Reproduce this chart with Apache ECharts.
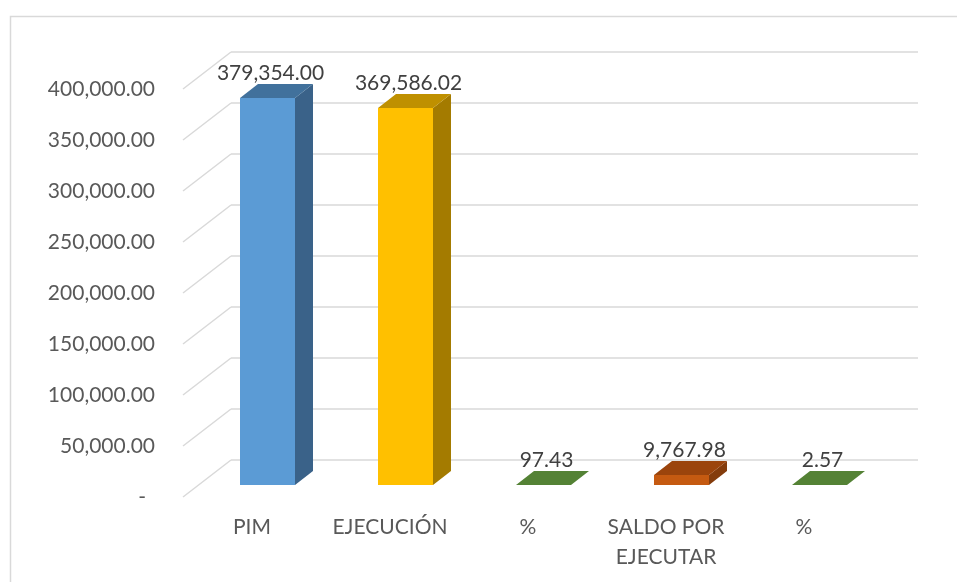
<!DOCTYPE html>
<html>
<head>
<meta charset="utf-8">
<script src="https://cdn.jsdelivr.net/npm/echarts@6/dist/echarts.min.js"></script>
<style>
  html, body { margin: 0; padding: 0; background: #fff; }
  #chart { width: 957px; height: 582px; }
</style>
</head>
<body>
<div id="chart"></div>
<script>
// datos
var categories = ['PIM', 'EJECUCIÓN', '%', 'SALDO POR\nEJECUTAR', '%'];
var values = [379354.00, 369586.02, 97.43, 9767.98, 2.57];
var yTicks = [0, 50000, 100000, 150000, 200000, 250000, 300000, 350000, 400000];
var yTickLabels = ['-', '50,000.00', '100,000.00', '150,000.00', '200,000.00', '250,000.00', '300,000.00', '350,000.00', '400,000.00'];

// colores: [frente, tapa, lado]
var palette = [
  ['#5B9BD5', '#41719C', '#3A6289'],
  ['#FFC000', '#BF9000', '#A47B00'],
  ['#548235', '#548235', '#548235'],
  ['#C55A11', '#9B440C', '#843C0C'],
  ['#548235', '#548235', '#548235']
];

var FONT = 'Lato, "Open Sans", sans-serif';
var FS = 21;
var DEPTH_X = 18, DEPTH_Y = -14;   // profundidad de la barra
var WALL_X = 48, WALL_Y = -37;     // piso frontal -> pared del fondo
var BAR_W = 55;

function fmt(v) {
  return v.toLocaleString('en-US', { minimumFractionDigits: 2, maximumFractionDigits: 2 });
}

var myChart = echarts.init(document.getElementById('chart'), null, { renderer: 'canvas' });

var option = {
  animation: false,
  textStyle: { fontFamily: FONT },
  graphic: [{
    type: 'rect',
    shape: { x: 10.5, y: 16.5, width: 960, height: 600 },
    style: { fill: 'none', stroke: '#d9d9d9', lineWidth: 1.5 },
    silent: true
  }],
  grid: [
    // plano frontal de las barras
    { left: 198.5, top: 77, width: 690, height: 408 },
    // borde frontal del piso (etiquetas)
    { left: 183, top: 89, width: 690, height: 408 },
    // pared del fondo
    { left: 231, top: 52, width: 687, height: 408 }
  ],
  xAxis: [
    { gridIndex: 0, type: 'category', data: categories, show: false },
    {
      gridIndex: 1, type: 'category', data: categories,
      axisLine: { show: false }, axisTick: { show: false },
      axisLabel: { color: '#595959', fontSize: FS, lineHeight: 30, margin: 15, interval: 0, fontFamily: FONT }
    },
    { gridIndex: 2, type: 'category', data: categories, show: false }
  ],
  yAxis: [
    { gridIndex: 0, type: 'value', min: 0, max: 400000, interval: 50000, show: false },
    {
      gridIndex: 1, type: 'value', min: 0, max: 400000, interval: 50000,
      axisLine: { show: false }, axisTick: { show: false }, splitLine: { show: false },
      axisLabel: {
        color: '#595959', fontSize: FS, margin: 28, fontFamily: FONT,
        formatter: function (v) {
          var i = yTicks.indexOf(v);
          var s = i >= 0 ? yTickLabels[i] : '';
          return v === 0 ? '{d|' + s + '}' : s;
        },
        rich: { d: { color: '#595959', fontSize: FS, fontFamily: FONT, padding: [0, 9, 0, 0] } }
      }
    },
    {
      gridIndex: 2, type: 'value', min: 0, max: 400000, interval: 50000,
      axisLine: { show: false }, axisTick: { show: false }, axisLabel: { show: false },
      splitLine: { lineStyle: { color: '#d9d9d9', width: 1.5 } }
    }
  ],
  series: [
    {
      // diagonales del piso/pared lateral
      type: 'custom',
      xAxisIndex: 1, yAxisIndex: 1,
      silent: true,
      z: 1,
      data: yTicks.map(function (t) { return [0, t]; }),
      renderItem: function (params, api) {
        var p = api.coord([0, api.value(1)]);
        var half = api.size([1, 0])[0] / 2;
        var x = p[0] - half;
        return {
          type: 'line',
          shape: { x1: x, y1: p[1], x2: x + WALL_X, y2: p[1] + WALL_Y },
          style: { stroke: '#d9d9d9', lineWidth: 1.5 }
        };
      }
    },
    {
      // barras 3D
      type: 'custom',
      xAxisIndex: 0, yAxisIndex: 0,
      z: 3,
      data: values.map(function (v, i) { return [i, v]; }),
      renderItem: function (params, api) {
        var i = api.value(0);
        var v = api.value(1);
        var base = api.coord([i, 0]);
        var top = api.coord([i, v]);
        var x0 = base[0] - BAR_W / 2, x1 = base[0] + BAR_W / 2;
        var y0 = base[1], y1 = top[1];
        var c = palette[i];
        var kids = [];
        // lado
        kids.push({
          type: 'polygon',
          shape: { points: [[x1, y1], [x1 + DEPTH_X, y1 + DEPTH_Y], [x1 + DEPTH_X, y0 + DEPTH_Y], [x1, y0]] },
          style: { fill: c[2] }
        });
        // frente
        if (y0 - y1 > 0.5) {
          kids.push({
            type: 'rect',
            shape: { x: x0, y: y1, width: BAR_W, height: y0 - y1 },
            style: { fill: c[0] }
          });
        }
        // tapa
        kids.push({
          type: 'polygon',
          shape: { points: [[x0, y1], [x0 + DEPTH_X, y1 + DEPTH_Y], [x1 + DEPTH_X, y1 + DEPTH_Y], [x1, y1]] },
          style: { fill: c[1] }
        });
        // etiqueta de valor
        kids.push({
          type: 'text',
          style: {
            text: fmt(v), x: base[0] + 3, y: y1 - 25,
            align: 'center', verticalAlign: 'middle',
            fill: '#404040', fontSize: FS, fontFamily: FONT
          }
        });
        return { type: 'group', children: kids };
      }
    }
  ]
};

option && myChart.setOption(option);
</script>
</body>
</html>
